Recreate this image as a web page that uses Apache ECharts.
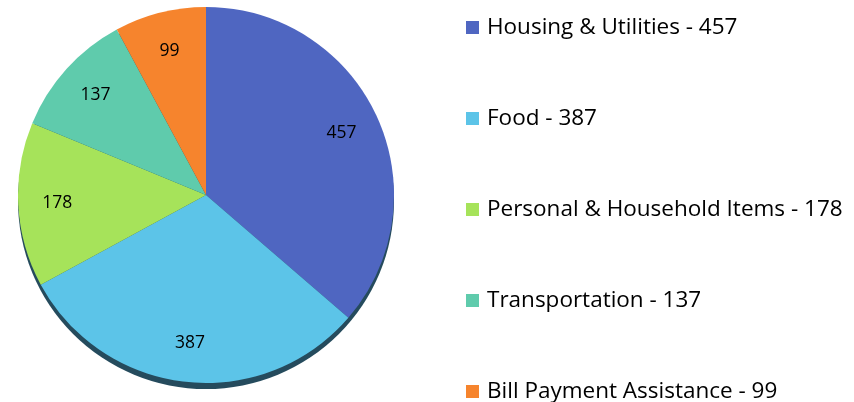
<!DOCTYPE html>
<html>
<head>
<meta charset="utf-8">
<script src="https://cdn.jsdelivr.net/npm/echarts@6/dist/echarts.min.js"></script>
<style>html,body{margin:0;padding:0;background:#fff}#c{width:854px;height:402px}</style>
</head>
<body>
<div id="c"></div>
<script>
const categories = ['Housing & Utilities', 'Food', 'Personal & Household Items', 'Transportation', 'Bill Payment Assistance'];
const values = [457, 387, 178, 137, 99];
const colors = ['#4f66c1', '#5cc4e8', '#a6e35a', '#5fcbac', '#f6842d'];

const FONT = 'Open Sans';
const chart = echarts.init(document.getElementById('c'), null, {renderer: 'canvas'});
const data = categories.map((n, i) => ({name: n, value: values[i], itemStyle: {color: colors[i]}}));
const valueOf = {};
categories.forEach((n, i) => valueOf[n] = values[i]);

chart.setOption({
  animation: false,
  legend: {
    data: categories,
    orient: 'vertical',
    left: 461,
    top: 8,
    height: 400,
    itemWidth: 13,
    itemHeight: 13,
    itemGap: 62,
    icon: 'rect',
    textStyle: {fontFamily: FONT, fontSize: 22.5, lineHeight: 29, color: '#000', padding: [0, 0, 0, 3]},
    formatter: n => n + ' - ' + valueOf[n]
  },
  series: [
    {
      type: 'pie', silent: true, center: [206, 201], radius: 188,
      data: [{name: '_shadow', value: 1, itemStyle: {color: '#254b5d'}}],
      label: {show: false}, labelLine: {show: false}, z: 1
    },
    {
      type: 'pie', center: [206, 195], radius: 188, startAngle: 90, clockwise: true,
      data: data, label: {show: false}, labelLine: {show: false},
      itemStyle: {borderWidth: 0}, z: 2
    },
    {
      type: 'pie', silent: true, center: [206, 195], radius: [104, 188], startAngle: 90, clockwise: true,
      data: categories.map((n, i) => ({name: n, value: values[i], itemStyle: {color: 'rgba(0,0,0,0)'}})),
      label: {show: true, position: 'inside', formatter: '{c}', fontFamily: FONT, fontSize: 17.5, color: '#000'},
      labelLine: {show: false}, z: 3
    }
  ]
});
</script>
</body>
</html>
